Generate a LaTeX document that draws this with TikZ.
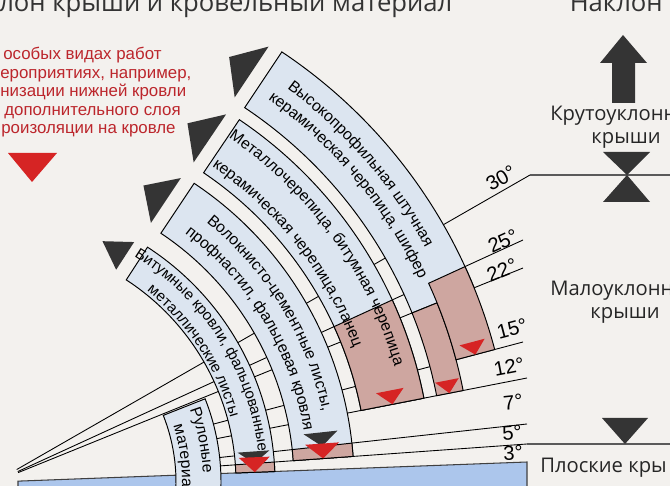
\documentclass[tikz,border=0pt]{standalone}
\usepackage{fontspec}
\setmainfont{Liberation Sans}
\newfontfamily\segoe{Open Sans}
\usetikzlibrary{calc,decorations.text}

\definecolor{bgcol}{RGB}{243,241,238}
\definecolor{bandcol}{RGB}{220,229,240}
\definecolor{pinkcol}{RGB}{206,166,160}
\definecolor{redtri}{RGB}{214,36,36}
\definecolor{darktri}{RGB}{52,52,52}
\definecolor{platecol}{RGB}{172,198,236}
\definecolor{legendred}{RGB}{188,38,44}
\definecolor{levelcol}{RGB}{90,90,90}

\newcommand{\bandfont}{\fontsize{9}{10}\selectfont}
\newcommand{\smallbandfont}{\fontsize{8.6}{10}\selectfont}
% annular sector: top angle, bottom angle, inner radius, outer radius
\newcommand{\bandshape}[4]{({-1*#1}:#4) arc[start angle={-1*#1}, end angle={-1*#2}, radius=#4] -- ({-1*#2}:#3) arc[start angle={-1*#2}, end angle={-1*#1}, radius=#3] -- cycle}
% dark triangle beyond the top of a band: angle, inner radius, outer radius
\newcommand{\toptri}[3]{\fill[darktri, rotate=#1] (#2+3,-14) -- (#3-3,-14) -- ({(#2+#3)/2},-41) -- cycle;}
% triangle pointing to a slope line: angle, radius, half width, height, colour
\newcommand{\bottri}[5]{\fill[#5, rotate=#1] (#2,0) -- (#2-#3,-#4) -- (#2+#3,-#4) -- cycle;}
% curved text in a band, centred: middle angle, radius, text
\newcommand{\arclabel}[3]{\path[arctext={#3}] ({-1*(#1+30)}:#2) arc[start angle={-1*(#1+30)}, end angle={-1*(#1-30)}, radius=#2];}

\begin{document}
\begin{tikzpicture}[x=0.02cm, y=-0.02cm,
  angline/.style={black, line width=0.5pt},
  levelline/.style={draw=levelcol, line width=1.1pt},
  bandbox/.style={fill=bandcol, draw=black, line width=0.55pt},
  pinkbox/.style={fill=pinkcol, draw=black, line width=0.55pt},
  deglabel/.style={font=\fontsize{11.5}{12}\selectfont, inner sep=0pt},
  rightlabel/.style={font=\segoe\fontsize{11.5}{13}\selectfont, text=black!85, inner sep=0pt},
  titletext/.style={font=\segoe\fontsize{14.6}{16}\selectfont, text=black!80, inner sep=0pt},
  legendline/.style={font=\fontsize{9.6}{11}\selectfont, text=legendred, anchor=base west, inner sep=0pt},
  arctext/.style={decorate, decoration={text along path, text align=center, text={|\bandfont|#1}}},
  arctextleft/.style={decorate, decoration={text along path, text align=left, text={|\bandfont|#1}}}
]
\useasboundingbox (0,0) rectangle (670,486);
\clip (0,0) rectangle (670,486);
\fill[bgcol] (0,0) rectangle (670,486);

% title
\node[titletext, anchor=base west] (title) at (-1,12) {лон крыши и кровельный материал};
\node[titletext, anchor=base east] (slope) at (663,12) {Наклон};

% legend
\node[legendline] (leg1) at (3,60) {особых видах работ};
\node[legendline] (leg2) at (0,78.5) {ероприятиях, например,};
\node[legendline] (leg3) at (0,97) {низации нижней кровли};
\node[legendline] (leg4) at (4,116) {дополнительного слоя};
\node[legendline] (leg5) at (1,134) {роизоляции на кровле};
\fill[redtri] (8,153) -- (57,153) -- (32,182) -- cycle;

% slope lines
\coordinate (O) at (-5,482);
\coordinate (e30) at (530,175);
\coordinate (e25) at (523,240);
\coordinate (e22) at (523,268);
\coordinate (e15) at (523,342);
\coordinate (e12) at (527,378);
\coordinate (e7) at (527,424);
\coordinate (e5) at (527,444);
\coordinate (e3) at (527,462);
\foreach \e in {30,25,22}
  \draw[angline] ($(O)!0.5cm!(e\e)$) -- (e\e);
\foreach \e in {15,12,7,5}
  \draw[angline] ($(O)!3.7cm!(e\e)$) -- (e\e);

% plate under the flat roofs
\coordinate (p1) at ($(O)!0.46cm!(e3)$);
\draw[fill=platecol, draw=black!75, line width=0.6pt] (p1) -- (e3) -- (527,492) -- (18,492) -- cycle;

% bands
\begin{scope}[shift={(O)}]
\draw[bandbox] \bandshape{21.6}{-8}{181}{226};
\draw[bandbox] \bandshape{57}{2.15}{241}{280};
\draw[bandbox] \bandshape{56.3}{4.09}{299}{359};
\draw[bandbox] \bandshape{56}{11.06}{373}{437};
\draw[bandbox] \bandshape{56.3}{22.06}{450}{517};
% special measures
\draw[pinkbox] \bandshape{4.09}{2.15}{241}{280};
\draw[pinkbox] \bandshape{6.22}{4.09}{299}{359};
\draw[pinkbox] \bandshape{24.62}{11.06}{373}{437};
\draw[pinkbox] \bandshape{22.06}{11.06}{450}{477};
\draw[pinkbox] \bandshape{24.62}{14.85}{477}{517};
% texts
\arclabel{11.5}{208}{Рулоные}
\path[arctextleft={материалы}] ({-17.5}:187) arc[start angle=-17.5, end angle=30, radius=187];
\begingroup
\renewcommand{\bandfont}{\smallbandfont}
\arclabel{32.5}{265}{Битумные кровли, фальцованные}
\arclabel{33.4}{244}{металлические листы}
\endgroup
\arclabel{31.5}{335}{Волокнисто-цементные листы,}
\arclabel{31}{313}{профнастил, фальцевая кровля}
\arclabel{36}{416}{Металлочерепица, битумная черепица}
\arclabel{38}{383}{керамическая черепица,сланец}
\arclabel{41}{490}{Высокопрофильная штучная}
\arclabel{40}{470}{керамическая черепица, шифер}
% arrows up the slope
\toptri{57}{241}{280}
\toptri{56.3}{299}{359}
\toptri{56}{373}{437}
\toptri{56.3}{450}{517}
% lowest slopes
\bottri{4.09}{260}{16}{12}{darktri}
\bottri{2.15}{260}{15.5}{15}{redtri}
\bottri{6.22}{329}{17}{14}{darktri}
\bottri{4.09}{329}{17}{15}{redtri}
\bottri{11.06}{405}{14}{14}{redtri}
\bottri{11.06}{463}{12}{13}{redtri}
\bottri{14.85}{497}{13}{13}{redtri}
\end{scope}

% degree labels
\node[deglabel, rotate=29.85] (l30) at (501,178) {30°};
\node[deglabel, rotate=24.6] (l25) at (503,241) {25°};
\node[deglabel, rotate=22] (l22) at (502,270) {22°};
\node[deglabel, rotate=14.8] (l15) at (512,329) {15°};
\node[deglabel, rotate=11] (l12) at (509,367) {12°};
\node[deglabel, rotate=6] (l7) at (513,402) {7°};
\node[deglabel, rotate=4] (l5) at (512,433) {5°};
\node[deglabel, rotate=2] (l3) at (513,453) {3°};

% slope groups
\draw[levelline] (e30) -- (670,175);
\draw[levelline] (e5) -- (670,444);
\fill[darktri] (612,103) -- (612,63) -- (600,63) -- (623,35) -- (647,63) -- (635,63) -- (635,103) -- cycle;
\fill[darktri] (603,152) -- (650,152) -- (627,175) -- cycle;
\fill[darktri] (627,175) -- (603,202) -- (650,202) -- cycle;
\fill[darktri] (602,418) -- (648,418) -- (625,444) -- cycle;
\node[rightlabel, anchor=base west] (steep) at (550,121) {Крутоуклонн};
\node[rightlabel] (steep2) at (626,140) {крыши};
\node[rightlabel, anchor=base west] (low) at (550,296) {Малоуклонн};
\node[rightlabel] (low2) at (625,315) {крыши};
\node[rightlabel, anchor=base west] (flat) at (540,473) {Плоские кры};
\end{tikzpicture}
\end{document}
